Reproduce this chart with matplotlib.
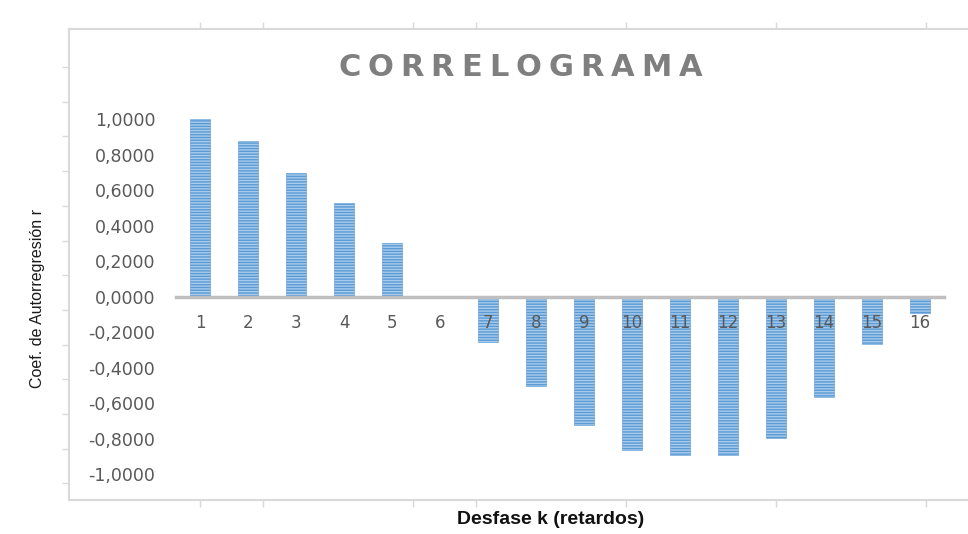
import matplotlib
matplotlib.use('Agg')
import matplotlib.pyplot as plt

# datos del correlograma
lags = list(range(1, 17))
coef = [1.0, 0.88, 0.70, 0.528, 0.306, 0.005, -0.252, -0.505,
        -0.725, -0.862, -0.894, -0.894, -0.793, -0.565, -0.265, -0.092]
y_ticks = [-1.0, -0.8, -0.6, -0.4, -0.2, 0.0, 0.2, 0.4, 0.6, 0.8, 1.0]
y_labels = [f"{round(v, 4) + 0.0:.4f}".replace('.', ',') for v in y_ticks]

title = "CORRELOGRAMA"
x_title = "Desfase k (retardos)"
y_title = "Coef. de Autorregresión r"

W, H = 968, 534
fig = plt.figure(figsize=(W / 100, H / 100), dpi=100)
narrow = ['Liberation Sans', 'DejaVu Sans']

# marco exterior (area del grafico) con sus marcas sueltas
ax0 = fig.add_axes([69 / W, 34 / H, 0.96, 471 / H])
ax0.set_xlim(69, 69 + 0.96 * W)
ax0.set_ylim(500, 29)
ax0.set_xticks([200, 263, 413, 476, 626, 776, 926])
ax0.set_yticks([67 + 34.7 * i for i in range(13)])
ax0.tick_params(which='both', direction='out', length=5, width=1, color='#d9d9d9',
                labelleft=False, labelbottom=False, top=True, labeltop=False)
for s in ax0.spines.values():
    s.set_color('#d9d9d9')
    s.set_linewidth(1.5)
ax0.patch.set_alpha(0)

# grafico de barras
ax = fig.add_axes([176 / W, 42 / H, 768 / W, 381.4 / H])
ax.bar(lags, coef, width=0.4, color='#a9cbec', edgecolor='#5b9bd5',
       linewidth=0.4, hatch='------', zorder=2)
ax.set_axisbelow(False)
ax.set_xlim(0.5, 16.5)
ax.set_ylim(-1.1, 1.05)
ax.set_yticks(y_ticks)
ax.set_yticklabels(y_labels)
ax.set_xticks(lags)
ax.set_xticklabels([str(k) for k in lags])
ax.patch.set_alpha(0)

for s in ['top', 'right', 'left']:
    ax.spines[s].set_visible(False)
ax.spines['bottom'].set_position(('data', 0))
ax.spines['bottom'].set_color('#bfbfbf')
ax.spines['bottom'].set_linewidth(2.5)
ax.spines['bottom'].set_zorder(3)
ax.tick_params(axis='y', length=0, pad=15, labelsize=12.5, labelcolor='#595959')
ax.tick_params(axis='x', length=0, pad=12, labelsize=12, labelcolor='#595959')

# titulo con espaciado entre letras
renderer = fig.canvas.get_renderer()
props = dict(fontsize=22, fontweight='bold', color='#7f7f7f', family='DejaVu Sans')
widths = []
for ch in title:
    t = fig.text(0, 0, ch, **props)
    widths.append(t.get_window_extent(renderer).width)
    t.remove()
span = 364
spacing = (span - sum(widths)) / (len(title) - 1)
x = 520 - span / 2
for ch, w in zip(title, widths):
    fig.text(x / W, 1 - 68 / H, ch, ha='left', va='center', **props)
    x += w + spacing

fig.text(551 / W, 1 - 520 / H, x_title, ha='center', va='center',
         fontsize=14, fontweight='bold', color='#111111', family=narrow)
fig.text(38 / W, 1 - 298 / H, y_title, ha='center', va='center', rotation=90,
         fontsize=11.5, color='#1a1a1a', family=narrow)

fig.savefig('out.png', dpi=100)
